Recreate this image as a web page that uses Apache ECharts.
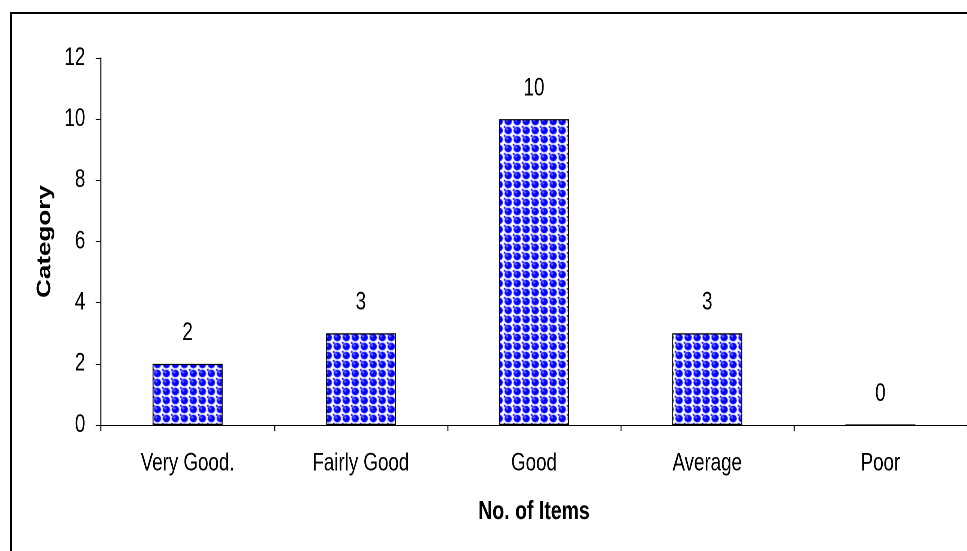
<!DOCTYPE html>
<html><head><meta charset="utf-8">
<script src="https://cdn.jsdelivr.net/npm/echarts@6/dist/echarts.min.js"></script>
<style>
html,body{margin:0;padding:0;background:#fff;overflow:hidden;width:967px;height:551px}
#c{width:1290px;height:551px;transform:scaleX(0.749612);transform-origin:0 0}
</style>
</head><body><div id="c"></div>
<script>
const categories = ['Very Good.', 'Fairly Good', 'Good', 'Average', 'Poor'];
const values = [2, 3, 10, 3, 0];
const yTicks = [0, 2, 4, 6, 8, 10, 12];
const xTitle = 'No. of Items';
const yTitle = 'Category';

// The original picture is a horizontally squeezed rendering;
// the chart is laid out wide and squeezed with a CSS scaleX.
const SX = 967 / 1290;

function makePattern() {
  const c = document.createElement('canvas');
  c.width = 24; c.height = 18;
  const g = c.getContext('2d');
  g.scale(2, 2);
  g.fillStyle = '#ffffff'; g.fillRect(0, 0, 12, 9);
  g.fillStyle = '#0000ff';
  g.beginPath(); g.ellipse(6, 4.5, 4.9, 3.7, 0, 0, Math.PI * 2); g.fill();
  g.fillRect(0, 0, 2.5, 1.8);
  g.fillStyle = '#7070ff';
  g.beginPath(); g.ellipse(4.6, 3.4, 1.6, 1.2, 0, 0, Math.PI * 2); g.fill();
  const t = document.createElement('canvas');
  t.width = 12; t.height = 9;
  t.getContext('2d').drawImage(c, 0, 0, 12, 9);
  return t;
}

const font = '"Liberation Sans", Arial, sans-serif';
const chart = echarts.init(document.getElementById('c'), null, { devicePixelRatio: 2 });
chart.setOption({
  animation: false,
  backgroundColor: '#fff',
  graphic: [
    { type: 'line', shape: { x1: 11 / SX, y1: 13, x2: 11 / SX, y2: 700 },
      style: { stroke: '#000', lineWidth: 2 / SX } },
    { type: 'line', shape: { x1: 10 / SX, y1: 13, x2: 2000, y2: 13 },
      style: { stroke: '#000', lineWidth: 2 } }
  ],
  grid: { left: 101 / SX, right: 0, top: 58, bottom: 126 },
  xAxis: {
    type: 'category', data: categories,
    name: xTitle, nameLocation: 'middle', nameGap: 74,
    nameTextStyle: { fontFamily: font, fontSize: 26, fontWeight: 'bold', color: '#000' },
    axisLine: { lineStyle: { color: '#000', width: 1 } },
    axisTick: { show: true, length: 6, lineStyle: { color: '#000', width: 1 / SX } },
    axisLabel: { margin: 26, fontFamily: font, fontSize: 25, color: '#000' }
  },
  yAxis: {
    type: 'value', min: 0, max: 12, interval: 2,
    name: yTitle, nameLocation: 'middle', nameGap: 62,
    nameTextStyle: { fontFamily: font, fontSize: 26, fontWeight: 'bold', color: '#000' },
    axisLine: { show: true, lineStyle: { color: '#000', width: 1 / SX } },
    axisTick: { show: true, length: 7, lineStyle: { color: '#000', width: 1 } },
    splitLine: { show: false },
    axisLabel: {
      margin: 21, fontFamily: font, fontSize: 25, color: '#000',
      formatter: v => yTicks.includes(v) ? String(v) : ''
    }
  },
  series: [{
    type: 'bar', data: values, barWidth: 70 / SX,
    itemStyle: {
      color: { image: makePattern(), repeat: 'repeat' },
      borderColor: '#000', borderWidth: 1.2
    },
    label: {
      show: true, position: 'top', distance: 18,
      fontFamily: font, fontSize: 25, color: '#000'
    }
  }]
});
</script></body></html>
